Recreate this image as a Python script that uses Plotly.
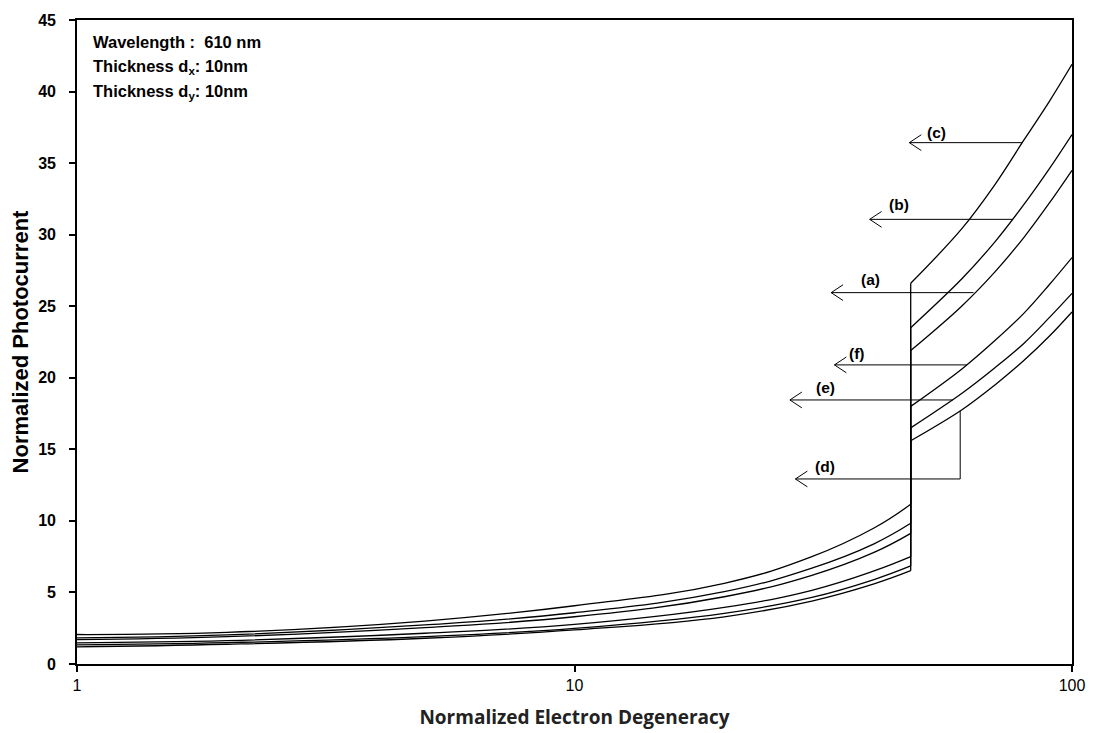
import math
import plotly.graph_objects as go

# Normalized electron degeneracy (log axis), below and above the jump
x_low = [1, 2, 5, 10, 20, 30, 40, 47.4]
x_high = [47.4, 60, 70, 80, 90, 100]

# Normalized photocurrent for each case, below the jump
c_low = [2.06, 2.21, 3.00, 4.07, 5.64, 7.5, 9.5, 11.16]
b_low = [1.82, 2.03, 2.73, 3.58, 5.05, 6.7, 8.4, 9.83]
a_low = [1.70, 1.91, 2.54, 3.30, 4.70, 6.2, 7.8, 9.13]
f_low = [1.48, 1.63, 2.15, 2.77, 3.96, 5.15, 6.5, 7.50]
e_low = [1.33, 1.49, 1.91, 2.49, 3.54, 4.65, 5.9, 6.85]
d_low = [1.20, 1.38, 1.80, 2.38, 3.30, 4.4, 5.6, 6.52]

# ... and above the jump
c_high = [26.6, 30.4, 33.5, 36.6, 39.3, 41.9]
b_high = [23.5, 26.9, 29.5, 32.1, 34.6, 37.0]
a_high = [21.9, 25.0, 27.4, 29.8, 32.2, 34.5]
f_high = [18.0, 20.6, 22.6, 24.5, 26.5, 28.4]
e_high = [16.5, 18.9, 20.7, 22.4, 24.2, 25.9]
d_high = [15.6, 17.75, 19.5, 21.2, 22.9, 24.6]

series = {
    "(c)": (c_low, c_high),
    "(b)": (b_low, b_high),
    "(a)": (a_low, a_high),
    "(f)": (f_low, f_high),
    "(e)": (e_low, e_high),
    "(d)": (d_low, d_high),
}

# Label callouts: label, arrow y, x where arrow leaves the curve, arrow tip x, label x, label y
callouts = [
    ("(c)", 36.43, 79.5, 47.1, 53.5, 37.15),
    ("(b)", 31.07, 76.0, 39.2, 44.8, 32.1),
    ("(a)", 25.95, 63.4, 32.8, 39.3, 26.85),
    ("(f)", 20.90, 61.4, 33.3, 36.9, 21.7),
    ("(e)", 18.45, 57.6, 27.1, 31.9, 19.3),
]
# (d) uses an elbow: down from the curve, then left
d_elbow_x, d_elbow_top, d_elbow_y, d_tip_x = 59.6, 17.68, 12.93, 27.8
d_label = (31.9, 13.8)

line_style = dict(color="black", width=1.3)
fig = go.Figure()

for name, (lo, hi) in series.items():
    fig.add_trace(go.Scatter(x=x_low, y=lo, mode="lines", line=dict(shape="spline", smoothing=1.2, **line_style),
                             showlegend=False, hoverinfo="skip"))
    fig.add_trace(go.Scatter(x=x_high, y=hi, mode="lines", line=dict(shape="spline", smoothing=1.0, **line_style),
                             showlegend=False, hoverinfo="skip"))
    # vertical step joining the two branches
    fig.add_trace(go.Scatter(x=[x_low[-1], x_high[0]], y=[lo[-1], hi[0]], mode="lines", line=line_style,
                             showlegend=False, hoverinfo="skip"))

arrow_style = dict(color="black", width=1)
ARM_DEC = 0.024   # chevron arm length in decades
ARM_H = 0.55      # chevron half-height in photocurrent units

label_font = dict(family="Liberation Sans", size=15.5, color="black")


def chevron(xt, yt):
    xa = xt * 10 ** ARM_DEC
    return [xa, xt, xa], [yt + ARM_H, yt, yt - ARM_H]


for label, y, xs, xt, lx, ly in callouts:
    fig.add_trace(go.Scatter(x=[xs, xt], y=[y, y], mode="lines", line=arrow_style,
                             showlegend=False, hoverinfo="skip"))
    cx, cy = chevron(xt, y)
    fig.add_trace(go.Scatter(x=cx, y=cy, mode="lines", line=arrow_style, showlegend=False, hoverinfo="skip"))
    fig.add_annotation(x=math.log10(lx), y=ly, text="<b>%s</b>" % label, showarrow=False, font=label_font)

fig.add_trace(go.Scatter(x=[d_elbow_x, d_elbow_x, d_tip_x], y=[d_elbow_top, d_elbow_y, d_elbow_y],
                         mode="lines", line=arrow_style, showlegend=False, hoverinfo="skip"))
cx, cy = chevron(d_tip_x, d_elbow_y)
fig.add_trace(go.Scatter(x=cx, y=cy, mode="lines", line=arrow_style, showlegend=False, hoverinfo="skip"))
fig.add_annotation(x=math.log10(d_label[0]), y=d_label[1], text="<b>(d)</b>", showarrow=False, font=label_font)

# parameter box text
info_lines = ["Wavelength :  610 nm", "Thickness d<sub>x</sub>: 10nm", "Thickness d<sub>y</sub>: 10nm"]
for i, t in enumerate(info_lines):
    fig.add_annotation(xref="paper", yref="paper", x=0.014, y=0.966 - i * 0.039, xanchor="left", yanchor="middle",
                       text="<b>%s</b>" % t, showarrow=False,
                       font=dict(family="Liberation Sans", size=16.5, color="black"))

fig.update_layout(
    width=1093, height=733,
    margin=dict(l=77, r=21, t=20, b=69),
    paper_bgcolor="white", plot_bgcolor="white",
    xaxis=dict(type="log", range=[0, 2], tickvals=[1, 10, 100], ticktext=["1", "10", "100"], automargin=False,
               showgrid=False, zeroline=False, showline=True, linecolor="black", linewidth=1.6, mirror=True,
               ticks="outside", ticklen=6, tickcolor="black", tickwidth=1.5,
               tickfont=dict(family="Liberation Sans", size=16, color="black"),
               title=dict(text="<b>Normalized Electron Degeneracy</b>", standoff=18,
                          font=dict(family="Open Sans", size=19, color="#222"))),
    yaxis=dict(range=[0, 45], tickvals=list(range(0, 50, 5)), showgrid=False, zeroline=False, automargin=False,
               showline=True, linecolor="black", linewidth=1.6, mirror=True,
               ticks="outside", ticklen=6, tickcolor="black", tickwidth=1.5, ticklabelstandoff=10,
               tickfont=dict(family="Liberation Sans", size=16, color="black", weight="bold"),
               title=dict(text="<b>Normalized Photocurrent</b>", standoff=4,
                          font=dict(family="Liberation Sans", size=22, color="black"))),
)

fig.write_html("out.html")
